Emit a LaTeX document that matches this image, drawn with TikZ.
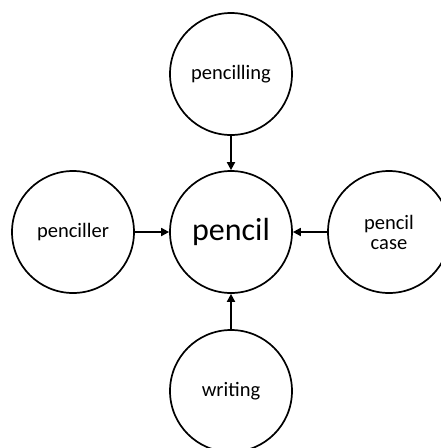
\documentclass[tikz,border=0pt]{standalone}
\usepackage{fontspec}
\setmainfont{Carlito}
\usetikzlibrary{arrows.meta}
\tikzset{
  bub/.style={circle,draw=black,line width=1.7pt,minimum size=122pt,inner sep=0pt,align=center,font=\fontsize{20.5}{20}\selectfont},
  link/.style={line width=1.7pt,-{Triangle[length=8pt,width=8pt]}}
}
\begin{document}
\begin{tikzpicture}[x=1pt,y=-1pt]
\useasboundingbox (0,0) rectangle (440,448);
\node[bub] (top) at (231,74) {pencilling};
\node[bub,font=\fontsize{32}{36}\selectfont] (mid) at (231,232) {pencil};
\node[bub] (left) at (73,232) {penciller};
\node[bub] (right) at (389,232) {pencil\\case};
\node[bub] (bot) at (231,391) {writing};
\draw[link] (top) -- (mid);
\draw[link] (left) -- (mid);
\draw[link] (right) -- (mid);
\draw[link] (bot) -- (mid);
\end{tikzpicture}
\end{document}
